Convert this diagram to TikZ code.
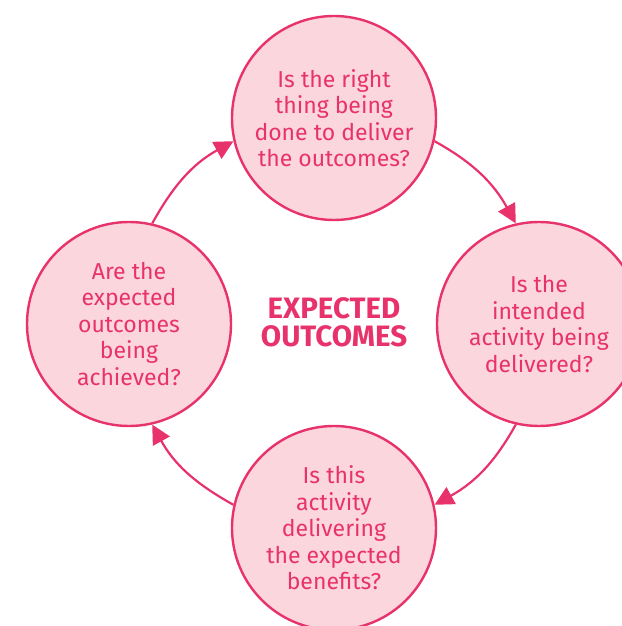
\documentclass[tikz,border=0pt]{standalone}
\usepackage{fontspec}
\setmainfont{Fira Sans}
\usetikzlibrary{arrows.meta}
\definecolor{pk}{HTML}{E8326C}
\definecolor{pkfill}{HTML}{FBD6DC}
\begin{document}
\begin{tikzpicture}[x=1pt,y=1pt,
 bubble/.style={circle, draw=pk, line width=2.4pt, fill=pkfill, minimum size=204pt, inner sep=0pt, text=pk, font=\fontsize{23}{26.5}\selectfont, align=center},
 flow/.style={draw=pk, line width=2.2pt, -{Triangle[length=19pt,width=19pt]}}]
\useasboundingbox (0,0) rectangle (621,626);
\node[bubble] (top) at (334,508) {Is the right\\thing being\\done to deliver\\the outcomes?};
\node[bubble] (right) at (539,302) {Is the\\intended\\activity being\\delivered?};
\node[bubble] (bottom) at (334,98) {Is this\\activity\\delivering\\the expected\\benefits?};
\node[bubble] (left) at (129,302) {Are the\\expected\\outcomes\\being\\achieved?};
\node[text=pk, font=\bfseries\fontsize{29.5}{28}\selectfont, align=center] (title) at (334,304) {EXPECTED\\OUTCOMES};
\draw[flow] (top.-13) to[out=-29,in=119] (right.103);
\draw[flow] (right.-103) to[out=-119,in=29] (bottom.13);
\draw[flow] (bottom.167) to[out=151,in=-61] (left.-77);
\draw[flow] (left.77) to[out=61,in=-151] (top.193);
\end{tikzpicture}
\end{document}
